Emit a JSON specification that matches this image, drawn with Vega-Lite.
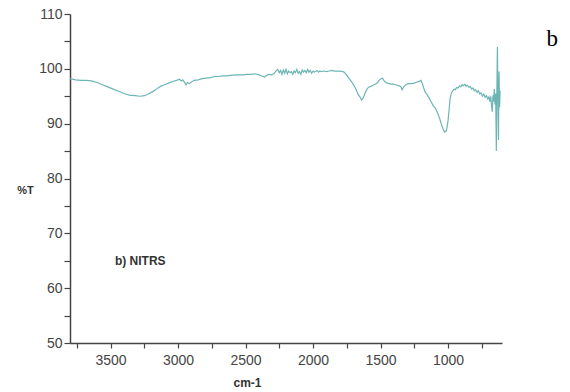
{
  "$schema": "https://vega.github.io/schema/vega-lite/v6.json",
  "width": 432,
  "height": 329,
  "autosize": "none",
  "padding": {"left": 70, "top": 14, "right": 68, "bottom": 49},
  "background": "white",
  "title": {"text": "b", "font": "Liberation Serif", "fontSize": 23, "fontWeight": "normal", "color": "#000", "anchor": "end", "orient": "top", "frame": "group", "dx": 56, "dy": 62, "baseline": "alphabetic", "offset": 0},
  "config": {"view": {"stroke": null}, "font": "Liberation Sans"},
  "datasets": {
    "spec": [
      {"wn":3800,"t":98.2},{"wn":3760,"t":98.0},{"wn":3720,"t":97.9},{"wn":3680,"t":97.9},{"wn":3640,"t":97.8},{"wn":3600,"t":97.5},{"wn":3560,"t":97.1},{"wn":3520,"t":96.7},{"wn":3480,"t":96.3},{"wn":3440,"t":95.9},{"wn":3400,"t":95.5},{"wn":3360,"t":95.2},{"wn":3320,"t":95.1},{"wn":3280,"t":95.0},{"wn":3250,"t":95.1},{"wn":3220,"t":95.4},{"wn":3190,"t":95.8},{"wn":3160,"t":96.3},{"wn":3130,"t":96.8},{"wn":3100,"t":97.1},{"wn":3070,"t":97.4},{"wn":3040,"t":97.7},{"wn":3010,"t":97.9},{"wn":2990,"t":98.1},{"wn":2975,"t":97.8},{"wn":2965,"t":98.0},{"wn":2950,"t":97.5},{"wn":2940,"t":97.1},{"wn":2930,"t":97.5},{"wn":2915,"t":97.3},{"wn":2900,"t":97.6},{"wn":2880,"t":97.9},{"wn":2850,"t":98.0},{"wn":2820,"t":98.2},{"wn":2790,"t":98.3},{"wn":2760,"t":98.4},{"wn":2730,"t":98.6},{"wn":2700,"t":98.6},{"wn":2670,"t":98.7},{"wn":2640,"t":98.7},{"wn":2610,"t":98.8},{"wn":2580,"t":98.9},{"wn":2550,"t":98.9},{"wn":2520,"t":98.9},{"wn":2490,"t":99.0},{"wn":2460,"t":99.0},{"wn":2430,"t":99.1},{"wn":2400,"t":98.9},{"wn":2380,"t":98.7},{"wn":2360,"t":98.5},{"wn":2345,"t":98.8},{"wn":2330,"t":99.0},{"wn":2310,"t":98.9},{"wn":2290,"t":99.1},{"wn":2275,"t":99.6},{"wn":2262,"t":99.9},{"wn":2250,"t":99.3},{"wn":2240,"t":99.7},{"wn":2230,"t":99.0},{"wn":2220,"t":99.8},{"wn":2210,"t":99.2},{"wn":2200,"t":99.9},{"wn":2190,"t":99.1},{"wn":2180,"t":99.6},{"wn":2170,"t":99.3},{"wn":2160,"t":99.5},{"wn":2150,"t":99.0},{"wn":2140,"t":99.6},{"wn":2130,"t":99.3},{"wn":2120,"t":99.9},{"wn":2110,"t":99.2},{"wn":2100,"t":99.5},{"wn":2090,"t":99.0},{"wn":2080,"t":99.8},{"wn":2070,"t":99.4},{"wn":2060,"t":99.7},{"wn":2050,"t":99.3},{"wn":2040,"t":99.9},{"wn":2030,"t":99.4},{"wn":2020,"t":99.7},{"wn":2010,"t":99.2},{"wn":2000,"t":99.6},{"wn":1990,"t":99.4},{"wn":1980,"t":99.5},{"wn":1970,"t":99.7},{"wn":1960,"t":99.4},{"wn":1950,"t":99.6},{"wn":1940,"t":99.5},{"wn":1920,"t":99.6},{"wn":1900,"t":99.5},{"wn":1880,"t":99.6},{"wn":1860,"t":99.7},{"wn":1840,"t":99.6},{"wn":1820,"t":99.6},{"wn":1800,"t":99.6},{"wn":1780,"t":99.5},{"wn":1770,"t":99.4},{"wn":1755,"t":99.0},{"wn":1740,"t":98.5},{"wn":1725,"t":98.0},{"wn":1710,"t":97.5},{"wn":1695,"t":96.9},{"wn":1680,"t":96.2},{"wn":1665,"t":95.3},{"wn":1650,"t":94.8},{"wn":1640,"t":94.3},{"wn":1630,"t":94.6},{"wn":1620,"t":95.2},{"wn":1610,"t":95.8},{"wn":1598,"t":96.4},{"wn":1585,"t":96.7},{"wn":1570,"t":96.8},{"wn":1555,"t":97.0},{"wn":1540,"t":97.2},{"wn":1525,"t":97.4},{"wn":1510,"t":97.9},{"wn":1497,"t":98.2},{"wn":1485,"t":98.3},{"wn":1475,"t":97.9},{"wn":1465,"t":97.6},{"wn":1450,"t":97.4},{"wn":1435,"t":97.3},{"wn":1420,"t":97.2},{"wn":1405,"t":97.2},{"wn":1390,"t":97.1},{"wn":1375,"t":97.0},{"wn":1360,"t":96.9},{"wn":1348,"t":96.7},{"wn":1340,"t":96.2},{"wn":1332,"t":96.6},{"wn":1320,"t":96.9},{"wn":1308,"t":97.2},{"wn":1290,"t":97.3},{"wn":1270,"t":97.3},{"wn":1250,"t":97.4},{"wn":1230,"t":97.6},{"wn":1215,"t":97.7},{"wn":1200,"t":97.9},{"wn":1190,"t":97.3},{"wn":1180,"t":96.5},{"wn":1170,"t":95.8},{"wn":1155,"t":95.3},{"wn":1140,"t":94.7},{"wn":1125,"t":94.0},{"wn":1110,"t":93.3},{"wn":1095,"t":92.9},{"wn":1085,"t":92.4},{"wn":1075,"t":91.8},{"wn":1065,"t":91.2},{"wn":1055,"t":90.4},{"wn":1045,"t":89.6},{"wn":1035,"t":88.9},{"wn":1025,"t":88.5},{"wn":1015,"t":88.6},{"wn":1008,"t":89.2},{"wn":1000,"t":90.5},{"wn":992,"t":92.5},{"wn":985,"t":94.5},{"wn":975,"t":95.6},{"wn":965,"t":96.0},{"wn":955,"t":96.3},{"wn":945,"t":96.2},{"wn":935,"t":96.6},{"wn":925,"t":96.5},{"wn":915,"t":96.9},{"wn":905,"t":96.7},{"wn":895,"t":97.1},{"wn":885,"t":96.9},{"wn":875,"t":97.2},{"wn":865,"t":96.8},{"wn":855,"t":97.0},{"wn":845,"t":96.6},{"wn":835,"t":96.8},{"wn":825,"t":96.3},{"wn":815,"t":96.5},{"wn":805,"t":96.0},{"wn":795,"t":96.2},{"wn":785,"t":95.7},{"wn":775,"t":96.0},{"wn":765,"t":95.4},{"wn":755,"t":95.6},{"wn":745,"t":95.0},{"wn":735,"t":95.4},{"wn":725,"t":94.8},{"wn":715,"t":95.1},{"wn":705,"t":94.5},{"wn":697,"t":94.9},{"wn":690,"t":94.0},{"wn":683,"t":95.0},{"wn":677,"t":93.2},{"wn":672,"t":92.2},{"wn":667,"t":95.2},{"wn":662,"t":94.0},{"wn":657,"t":96.3},{"wn":652,"t":93.5},{"wn":647,"t":95.5},{"wn":642,"t":85.0},{"wn":638,"t":96.0},{"wn":634,"t":104.0},{"wn":630,"t":95.0},{"wn":626,"t":87.0},{"wn":622,"t":99.5},{"wn":618,"t":93.0},{"wn":614,"t":96.0}
    ],
    "notes": [{"wn": 3467, "t": 65, "label": "b) NITRS"}]
  },
  "layer": [
    {
      "data": {"name": "spec"},
      "mark": {"type": "line", "color": "#6db5b5", "strokeWidth": 1.2, "clip": true},
      "encoding": {
        "x": {"field": "wn", "type": "quantitative", "sort": null,
          "scale": {"domain": [600, 3800], "reverse": true, "nice": false, "zero": false},
          "axis": {"values": [3750,3500,3250,3000,2750,2500,2250,2000,1750,1500,1250,1000,750], "tickCount": 40,
            "labelExpr": "datum.value % 500 === 0 ? datum.label : ''", "format": "d", "labelOverlap": false,
            "grid": false, "domainColor": "#444", "domainWidth": 1.5, "tickColor": "#444", "tickWidth": 1.2, "tickSize": 5,
            "labelFont": "Liberation Sans", "labelFontSize": 14, "labelColor": "#444", "labelPadding": 5,
            "title": "cm-1", "titleFont": "Liberation Sans", "titleFontSize": 12, "titleFontWeight": "bold", "titleColor": "#333",
            "titleX": 177, "titleY": 39, "titleBaseline": "middle", "titleAlign": "center"}
        },
        "y": {"field": "t", "type": "quantitative",
          "scale": {"domain": [50, 110], "nice": false, "zero": false},
          "axis": {"values": [50,55,60,65,70,75,80,85,90,95,100,105,110], "tickCount": 40,
            "labelExpr": "datum.value % 10 === 0 ? datum.label : ''", "labelOverlap": false,
            "grid": false, "domainColor": "#444", "domainWidth": 1.5, "tickColor": "#444", "tickWidth": 1.2, "tickSize": 6,
            "labelFont": "Liberation Sans", "labelFontSize": 14, "labelColor": "#444", "labelPadding": 2,
            "title": "%T", "titleFont": "Liberation Sans", "titleFontSize": 11, "titleFontWeight": "bold", "titleColor": "#333",
            "titleAngle": 0, "titleX": -45, "titleY": 176, "titleBaseline": "middle", "titleAlign": "center"}
        }
      }
    },
    {
      "data": {"name": "notes"},
      "mark": {"type": "text", "align": "left", "baseline": "middle", "font": "Liberation Sans", "fontSize": 12, "fontWeight": "bold", "color": "#333"},
      "encoding": {
        "x": {"field": "wn", "type": "quantitative"},
        "y": {"field": "t", "type": "quantitative"},
        "text": {"field": "label"}
      }
    }
  ]
}
